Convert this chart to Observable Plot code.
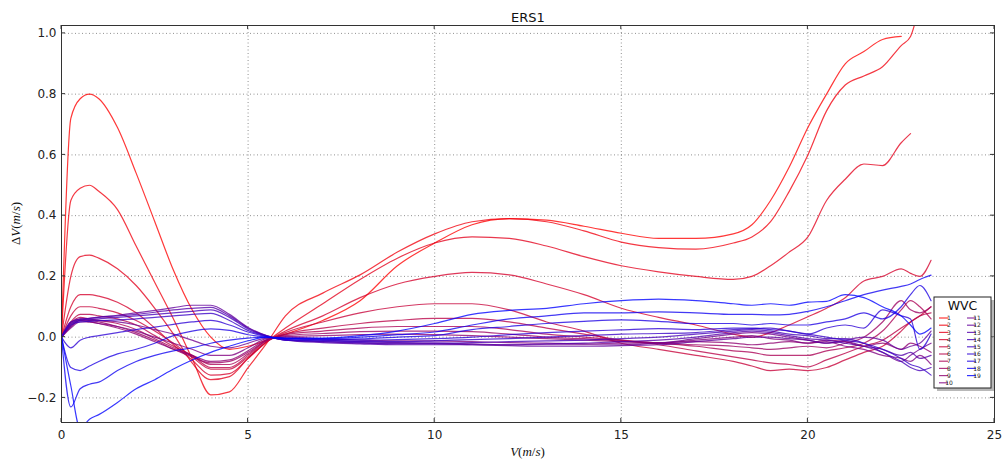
<!DOCTYPE html>
<html><head><meta charset="utf-8">
<script src="https://cdn.jsdelivr.net/npm/d3@7"></script>
<script src="https://cdn.jsdelivr.net/npm/@observablehq/plot@0.6"></script>
<style>body{margin:0;background:#fff}#chart{width:1006px;height:467px}</style>
</head><body><div id="chart"></div>
<script>
// wind speed V (m/s) sample positions
const speed = [0,0.25,0.5,0.75,1,1.5,2,2.5,3,3.5,4,4.5,5,5.5,6,7,8,9,10,11,12,13,14,15,16,17,18,18.5,19,19.5,20,20.5,21,21.5,22,22.5,22.75,23,23.3];
// ΔV (m/s) per WVC
const wvc01 = [0,.72,.785,.8,.785,.69,.54,.38,.22,.09,0,-.04,-.03,-.01,.01,.055,.12,.235,.31,.37,.39,.385,.365,.342,.325,.325,.34,.37,.45,.56,.69,.8,.9,.94,.98,.99,null,null,null];
const wvc02 = [0,.45,.49,.5,.48,.42,.3,.18,.06,-.07,-.19,-.18,-.1,-.02,.07,.145,.205,.28,.34,.38,.39,.38,.35,.313,.295,.29,.31,.33,.38,.48,.6,.745,.83,.86,.89,.96,.99,1.1,null];
const wvc03 = [0,.2,.265,.27,.26,.225,.17,.095,.01,-.085,-.14,-.13,-.07,-.015,.03,.11,.19,.26,.31,.33,.325,.3,.265,.235,.215,.2,.19,.2,.235,.28,.33,.45,.52,.57,.565,.64,.67,null,null];
const wvc04 = [0,.1,.14,.14,.135,.115,.08,.03,-.025,-.075,-.125,-.12,-.07,-.015,.02,.07,.13,.175,.2,.213,.205,.175,.14,.095,.065,.04,.01,0,.015,.04,.067,.095,.13,.185,.2,.225,.21,.2,.253];
const wvc05 = [0,.07,.1,.1,.095,.08,.055,.02,-.02,-.065,-.105,-.105,-.065,-.015,.015,.05,.08,.1,.11,.11,.09,.05,.02,-.02,-.04,-.06,-.08,-.095,-.11,-.105,-.11,-.1,-.075,-.05,-.03,.02,.05,.07,.1];
const wvc06 = [0,.05,.075,.075,.07,.06,.04,.005,-.03,-.06,-.1,-.1,-.06,-.012,.01,.03,.045,.055,.062,.062,.05,.03,.01,-.01,-.025,-.045,-.065,-.075,-.085,-.09,-.098,-.075,-.053,-.03,-.01,.03,.05,.07,.08];
const wvc07 = [0,.045,.065,.06,.055,.045,.025,-.005,-.035,-.06,-.09,-.09,-.055,-.01,.008,.02,.03,.035,.035,.035,.025,.01,0,-.01,-.02,-.03,-.045,-.05,-.06,-.06,-.06,-.045,-.035,-.02,.02,.09,.12,.1,.06];
const wvc08 = [0,.04,.06,.055,.05,.035,.015,-.01,-.04,-.065,-.085,-.08,-.05,-.01,.005,.012,.018,.02,.02,.018,.01,0,-.005,-.012,-.02,-.025,-.03,-.035,-.04,-.035,-.03,-.035,-.02,0,.05,.12,.09,.08,.1];
const wvc09 = [0,.035,.055,.05,.045,.03,.01,-.015,-.04,-.06,-.08,-.075,-.045,-.008,.002,.005,.008,.01,.008,.005,0,-.005,-.01,-.015,-.018,-.015,-.02,-.025,-.02,-.015,-.02,-.01,-.015,-.03,-.02,-.04,-.02,-.03,-.05];
const wvc10 = [0,.03,.05,.05,.045,.035,.02,0,-.02,-.04,-.06,-.06,-.035,-.005,0,-.005,-.01,-.012,-.012,-.015,-.018,-.02,-.022,-.02,-.02,-.01,0,.005,-.005,-.01,-.02,-.015,-.03,-.04,-.06,-.07,-.08,-.06,-.09];
const wvc11 = [0,.035,.055,.055,.055,.05,.04,.025,.01,-.01,-.03,-.035,-.02,-.003,-.003,-.01,-.015,-.018,-.02,-.022,-.025,-.025,-.025,-.025,-.02,-.005,.01,.015,.01,0,-.01,-.02,-.015,-.03,-.05,-.08,-.06,-.04,-.02];
const wvc12 = [0,.05,.058,.062,.066,.072,.08,.088,.097,.105,.105,.075,.032,.005,-.008,-.015,-.02,-.022,-.022,-.025,-.028,-.03,-.03,-.028,-.025,-.015,-.005,0,0,-.005,-.01,-.02,-.01,0,-.01,-.04,-.03,-.02,.02];
const wvc13 = [0,.05,.06,.062,.065,.07,.075,.082,.09,.095,.098,.07,.03,.004,-.01,-.018,-.022,-.025,-.025,-.025,-.025,-.022,-.02,-.015,-.01,0,.015,.02,.015,.005,-.005,-.01,-.02,-.03,-.04,-.06,-.05,-.07,-.06];
const wvc14 = [0,.045,.055,.058,.06,.065,.07,.075,.08,.085,.09,.065,.027,.004,-.01,-.015,-.018,-.02,-.02,-.018,-.015,-.012,-.01,-.005,0,.01,.02,.025,.02,.01,.005,-.005,-.005,-.02,-.05,-.08,-.1,-.11,-.1];
const wvc15 = [0,.04,.05,.052,.054,.057,.06,.065,.07,.075,.078,.055,.022,.003,-.01,-.012,-.015,-.015,-.012,-.008,-.005,0,.005,.01,.012,.015,.025,.028,.03,.02,.01,0,-.01,-.02,-.04,-.07,-.09,-.1,-.125];
const wvc16 = [0,-.035,-.01,0,.005,.015,.025,.033,.042,.05,.055,.04,.017,.002,-.008,-.01,-.01,-.008,-.005,0,.008,.015,.02,.024,.028,.025,.03,.03,.025,.02,.01,.03,.04,.03,.09,.07,.06,-.04,.01];
const wvc17 = [0,-.1,-.11,-.095,-.08,-.055,-.04,-.02,.005,.02,.027,.022,.008,0,-.005,-.008,-.006,0,.005,.025,.035,.045,.052,.057,.052,.045,.045,.04,.045,.04,.04,.05,.06,.08,.06,.1,.14,.17,.12];
const wvc18 = [0,-.23,-.17,-.155,-.148,-.11,-.08,-.06,-.045,-.035,-.02,-.01,-.003,0,-.005,-.005,0,.008,.017,.04,.06,.07,.08,.08,.083,.08,.075,.075,.073,.075,.085,.1,.12,.14,.155,.167,.175,.19,.204];
const wvc19 = [0,-.16,-.3,-.27,-.255,-.215,-.17,-.14,-.105,-.075,-.05,-.03,-.012,0,-.003,-.003,.005,.02,.045,.075,.088,.095,.11,.12,.125,.12,.11,.105,.11,.105,.115,.118,.14,.13,.1,.07,.04,.01,.03];

const wvcLabels = ["1","2","3","4","5","6","7","8","9","10","11","12","13","14","15","16","17","18","19"];
const xTicks = [0,5,10,15,20,25];
const yTicks = [-0.2,0,0.2,0.4,0.6,0.8,1.0];
const titleText = "ERS1";
const legendTitle = "WVC";

const seriesList = [wvc01,wvc02,wvc03,wvc04,wvc05,wvc06,wvc07,wvc08,wvc09,wvc10,wvc11,wvc12,wvc13,wvc14,wvc15,wvc16,wvc17,wvc18,wvc19];
const rows = [];
seriesList.forEach((vals, i) => vals.forEach((v, j) => rows.push({wvc: wvcLabels[i], V: speed[j], dV: v})));
const colorOf = i => d3.interpolateRgb("#ff0000", "#0000ff")(i / (wvcLabels.length - 1));

const gridStyle = {stroke: "#000", strokeOpacity: 0.55, strokeDasharray: "1,2.5", strokeWidth: 0.8};

const chart = Plot.plot({
  width: 1006, height: 467,
  marginLeft: 61, marginRight: 12, marginTop: 25, marginBottom: 45,
  style: {fontFamily: "DejaVu Sans, sans-serif", fontSize: "11px", color: "#222", background: "#fff"},
  x: {domain: [0, 25]},
  y: {domain: [-0.281, 1.026]},
  color: {domain: wvcLabels, range: wvcLabels.map((d, i) => colorOf(i))},
  marks: [
    Plot.ruleX(xTicks.slice(1, -1), gridStyle),
    Plot.ruleY(yTicks, gridStyle),
    Plot.line(rows, {x: "V", y: "dV", z: "wvc", stroke: "wvc", strokeOpacity: 0.78, strokeWidth: 1.2, curve: "monotone-x", clip: true}),
    Plot.frame({stroke: "#333", strokeWidth: 1}),
    Plot.axisX(xTicks, {anchor: "bottom", tickSize: 0, tickPadding: 8, fontSize: 12, label: null}),
    Plot.axisY(yTicks, {anchor: "left", tickSize: 0, tickPadding: 5, fontSize: 12, label: null,
      tickFormat: d => d.toFixed(1).replace("-", "\u2212")}),
    Plot.text([titleText], {frameAnchor: "top", dy: -13, fontSize: 13, fill: "#111"})
  ]
});
document.getElementById("chart").appendChild(chart);

// inward ticks on all four sides, placed through the plot's scales
const sx = chart.scale("x"), sy = chart.scale("y");
const svg = d3.select(chart);
const x0 = sx.apply(0), x1 = sx.apply(25), yb = sy.apply(-0.281), yt = sy.apply(1.026);
const tg = svg.append("g").attr("stroke", "#333").attr("stroke-width", 1);
xTicks.forEach(t => {
  const px = sx.apply(t);
  tg.append("line").attr("x1", px).attr("x2", px).attr("y1", yb).attr("y2", yb - 4);
  tg.append("line").attr("x1", px).attr("x2", px).attr("y1", yt).attr("y2", yt + 4);
});
yTicks.forEach(t => {
  const py = sy.apply(t);
  tg.append("line").attr("x1", x0).attr("x2", x0 + 4).attr("y1", py).attr("y2", py);
  tg.append("line").attr("x1", x1).attr("x2", x1 - 4).attr("y1", py).attr("y2", py);
});

// axis labels (math style)
const xl = svg.append("text").attr("x", (x0 + x1) / 2).attr("y", 456).attr("text-anchor", "middle")
  .attr("font-family", "Liberation Serif, DejaVu Serif, serif").attr("font-size", 13).attr("fill", "#111");
xl.append("tspan").attr("font-style", "italic").text("V");
xl.append("tspan").text("(");
xl.append("tspan").attr("font-style", "italic").text("m");
xl.append("tspan").text("/");
xl.append("tspan").attr("font-style", "italic").text("s");
xl.append("tspan").text(")");
const yl = svg.append("text").attr("transform", `translate(20,${(yb + yt) / 2}) rotate(-90)`).attr("text-anchor", "middle")
  .attr("font-family", "Liberation Serif, DejaVu Serif, serif").attr("font-size", 13).attr("fill", "#111");
yl.append("tspan").text("\u0394");
yl.append("tspan").attr("font-style", "italic").text("V");
yl.append("tspan").text("(");
yl.append("tspan").attr("font-style", "italic").text("m");
yl.append("tspan").text("/");
yl.append("tspan").attr("font-style", "italic").text("s");
yl.append("tspan").text(")");

// legend box
const lg = svg.append("g").attr("transform", "translate(934,297)");
lg.append("rect").attr("x", 3).attr("y", 3).attr("width", 57).attr("height", 91).attr("fill", "#888").attr("opacity", 0.6);
lg.append("rect").attr("x", 0).attr("y", 0).attr("width", 57).attr("height", 91).attr("fill", "#fff").attr("stroke", "#222").attr("stroke-width", 1);
lg.append("text").attr("x", 28.5).attr("y", 13).attr("text-anchor", "middle").attr("font-size", 12.5).attr("fill", "#111").text(legendTitle);
wvcLabels.forEach((lab, i) => {
  const col = i < 10 ? 0 : 1, row = i < 10 ? i : i - 10;
  const bx = col === 0 ? 5 : 33, by = 21 + row * 7.2;
  lg.append("line").attr("x1", bx).attr("x2", bx + 9).attr("y1", by).attr("y2", by)
    .attr("stroke", colorOf(i)).attr("stroke-opacity", 0.8).attr("stroke-width", 1.2);
  lg.append("text").attr("x", bx + 10).attr("y", by).attr("dy", "0.35em").attr("font-size", 6).attr("fill", "#222").text(lab);
});
</script>
</body></html>
